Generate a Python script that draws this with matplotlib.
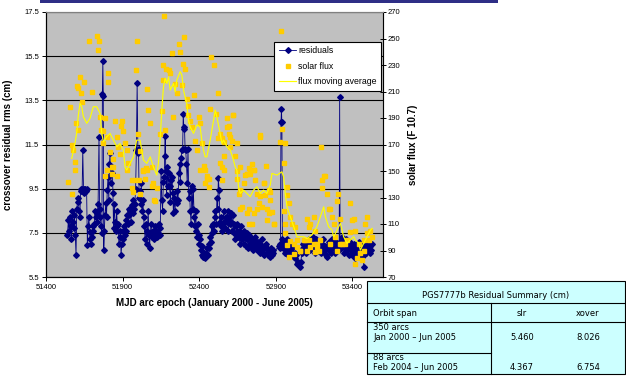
import matplotlib
matplotlib.use("Agg")
import matplotlib.pyplot as plt
from matplotlib.patches import Rectangle
from matplotlib.lines import Line2D

plt.rcParams['font.family'] = ['Liberation Sans', 'DejaVu Sans']

# crossover residual rms per arc (MJD, cm)
residuals = [
    (51540, 7.4), (51546, 8.1), (51551, 7.6), (51556, 8.2), (51561, 7.8), (51566, 7.2), (51571, 8.5),
    (51576, 8.0), (51581, 7.7), (51586, 8.3), (51591, 7.4), (51596, 6.5), (51601, 8.6), (51606, 8.9),
    (51611, 9.1), (51616, 8.5), (51621, 8.2), (51626, 9.5), (51631, 9.4), (51636, 9.5), (51640, 11.25),
    (51645, 9.5), (51650, 9.3), (51655, 9.5), (51660, 9.4), (51665, 9.5),
    (51670, 6.95), (51675, 7.8), (51680, 8.2), (51685, 7.55), (51690, 7.2), (51695, 7.0), (51700, 7.3),
    (51705, 7.8), (51710, 7.6), (51715, 7.9), (51720, 8.5), (51725, 8.2), (51730, 8.0), (51735, 8.4),
    (51740, 8.8), (51746, 11.85), (51750, 8.6), (51755, 8.2), (51760, 7.8), (51765, 7.5), (51768, 13.8),
    (51771, 15.28), (51774, 13.7), (51777, 6.7), (51781, 7.6),
    (51785, 8.3), (51790, 8.83), (51795, 8.2), (51800, 9.44), (51805, 10.04), (51810, 9.0), (51814, 10.6),
    (51818, 11.1), (51823, 9.74), (51828, 10.2), (51833, 10.5), (51837, 9.3), (51841, 7.7), (51846, 8.8),
    (51851, 8.0), (51856, 7.6), (51861, 8.5), (51866, 7.8), (51871, 7.9), (51876, 7.0), (51881, 7.3),
    (51886, 7.6), (51890, 6.5), (51895, 7.0), (51900, 7.2), (51905, 7.6), (51910, 7.8), (51915, 7.4),
    (51920, 8.1),
    (51925, 7.6), (51930, 8.3), (51935, 7.9), (51940, 8.3), (51945, 8.6), (51950, 8.5), (51955, 8.0),
    (51960, 8.76), (51965, 8.4), (51970, 9.0), (51975, 8.6), (51980, 8.8), (51985, 9.5), (51990, 11.25),
    (51995, 14.3), (52000, 11.1), (52004, 11.3), (52008, 9.1), (52012, 9.4), (52017, 8.8), (52022, 9.74),
    (52027, 8.5), (52032, 9.0), (52037, 8.2),
    (52042, 7.8), (52047, 7.2), (52052, 7.9), (52057, 7.0), (52062, 7.6), (52067, 8.5), (52072, 7.4),
    (52076, 6.8), (52081, 7.5), (52086, 7.9), (52091, 7.3), (52096, 7.6), (52101, 7.5), (52106, 7.2),
    (52111, 7.8), (52116, 7.4), (52121, 7.6), (52126, 7.3), (52131, 7.5), (52136, 7.9), (52141, 7.4),
    (52146, 7.7),
    (52151, 10.3), (52156, 9.0), (52161, 8.5), (52166, 9.8), (52171, 10.04), (52175, 11.0), (52178, 11.9),
    (52182, 10.3), (52187, 9.2), (52192, 10.5), (52197, 9.6), (52202, 10.2), (52207, 9.6), (52212, 8.9),
    (52217, 9.9), (52222, 10.04), (52227, 9.3), (52232, 8.38), (52237, 9.1), (52242, 8.5), (52247, 9.0),
    (52252, 8.83), (52257, 9.4), (52262, 9.0), (52267, 10.2), (52272, 10.6), (52277, 9.8), (52282, 10.9),
    (52287, 11.25), (52292, 11.3), (52296, 12.9), (52300, 12.2), (52304, 12.3), (52308, 11.3), (52312, 11.25),
    (52317, 10.6), (52322, 9.74), (52327, 11.3), (52332, 9.1), (52337, 9.4), (52342, 8.5), (52347, 7.9),
    (52352, 9.6), (52357, 8.6), (52362, 9.5), (52367, 8.2), (52372, 7.8), (52377, 8.5), (52382, 7.6),
    (52386, 7.3), (52391, 7.9), (52396, 7.4), (52401, 7.0), (52406, 7.2), (52411, 6.7), (52416, 6.9),
    (52421, 6.5), (52426, 6.4), (52431, 6.6), (52436, 6.35), (52441, 6.5), (52446, 6.6), (52451, 6.8),
    (52456, 6.5),
    (52461, 7.0), (52466, 6.8), (52471, 7.3), (52476, 7.1), (52481, 7.8), (52486, 7.5), (52491, 7.9),
    (52496, 7.6), (52501, 8.2), (52506, 8.5), (52511, 7.9), (52516, 9.1), (52521, 8.6), (52525, 10.0),
    (52530, 9.44), (52535, 8.0), (52540, 7.8), (52545, 8.2), (52550, 7.6), (52555, 7.8), (52560, 8.5),
    (52565, 8.0),
    (52570, 7.7), (52575, 8.2), (52580, 8.0), (52585, 8.5), (52590, 7.6), (52595, 8.2), (52600, 7.9),
    (52605, 8.4), (52610, 8.0), (52615, 7.6), (52620, 8.3), (52625, 7.5), (52630, 7.9), (52635, 7.2),
    (52640, 7.8), (52645, 7.4), (52650, 7.9), (52655, 7.3), (52660, 7.6), (52665, 7.0), (52670, 7.5),
    (52675, 7.8), (52680, 7.2), (52685, 7.4), (52690, 7.0), (52695, 7.6), (52700, 7.3), (52705, 6.9),
    (52710, 7.5), (52715, 7.2), (52720, 6.8), (52725, 7.4), (52730, 7.0), (52735, 7.3), (52740, 6.9),
    (52745, 7.1), (52750, 6.7), (52755, 7.2), (52760, 6.9), (52765, 7.3), (52770, 6.8), (52775, 7.0),
    (52780, 6.7), (52785, 7.1), (52790, 6.9), (52795, 6.6), (52800, 7.0), (52805, 6.8), (52810, 7.2),
    (52815, 6.6), (52820, 6.9), (52825, 6.5), (52830, 6.8), (52835, 7.0), (52840, 6.6), (52845, 6.8),
    (52850, 6.5), (52855, 6.7), (52860, 6.4), (52865, 6.6), (52870, 6.8), (52875, 6.5), (52880, 6.7),
    (52885, 6.6),
    (52920, 6.9), (52925, 7.0), (52930, 6.8), (52934, 12.5), (52937, 13.1), (52940, 12.5), (52943, 7.2),
    (52948, 6.8), (52953, 7.1), (52958, 6.6), (52963, 7.0), (52968, 6.7), (52973, 7.2), (52978, 6.8),
    (52983, 6.5), (52988, 7.0), (52993, 6.7), (52998, 6.9), (53003, 6.5), (53008, 6.8), (53013, 6.6),
    (53018, 6.4), (53023, 6.6), (53028, 6.34), (53033, 6.5), (53040, 6.1), (53048, 6.2), (53056, 5.96),
    (53064, 6.2), (53070, 6.6), (53075, 7.0), (53080, 6.8), (53085, 6.7), (53090, 7.1), (53095, 6.9),
    (53100, 6.6), (53105, 7.0), (53110, 6.8), (53115, 7.2), (53120, 6.9), (53125, 6.7), (53130, 7.1),
    (53135, 6.9), (53140, 7.3), (53145, 6.8), (53150, 7.0), (53155, 6.6), (53160, 6.9), (53165, 7.2),
    (53170, 6.8), (53175, 7.0), (53180, 6.7), (53185, 7.1), (53190, 6.9), (53195, 6.6), (53200, 7.0),
    (53205, 6.8), (53210, 7.2), (53215, 6.7), (53220, 6.9), (53225, 6.5), (53230, 6.8), (53235, 6.4),
    (53240, 6.9), (53245, 7.1), (53250, 6.7), (53255, 7.0), (53260, 6.6), (53265, 6.9), (53270, 7.2),
    (53275, 6.8), (53280, 7.0), (53285, 6.6), (53290, 6.9), (53295, 7.1), (53300, 6.8), (53305, 7.0),
    (53310, 6.7),
    (53314, 7.0), (53317, 13.65), (53320, 7.1), (53325, 6.8), (53330, 7.3), (53335, 6.9), (53340, 7.1),
    (53345, 6.6), (53350, 7.0), (53355, 6.8), (53360, 7.2), (53365, 6.7), (53370, 7.0), (53375, 6.5),
    (53380, 6.9), (53385, 7.1), (53390, 6.7), (53395, 6.9), (53400, 6.5), (53405, 6.8), (53410, 7.0),
    (53415, 6.6), (53420, 6.34), (53425, 6.8), (53430, 7.0), (53435, 6.6), (53440, 6.9), (53445, 7.1),
    (53450, 6.7), (53455, 6.5), (53460, 6.9), (53465, 6.6), (53470, 6.8), (53474, 5.96), (53478, 6.5),
    (53483, 6.9), (53488, 6.6), (53493, 7.0), (53498, 6.7), (53503, 6.9), (53508, 7.1), (53513, 6.6),
    (53518, 6.9), (53523, 6.7), (53528, 7.0),
]

# daily solar flux samples (MJD, F10.7)
solar_flux = [
    (51546, 142), (51568, 170), (51568, 133), (51557, 198), (51578, 166), (51589, 157), (51589, 151),
    (51596, 186), (51604, 214), (51611, 213), (51622, 221), (51626, 209), (51633, 202), (51611, 181),
    (51650, 217), (51679, 248), (51698, 210), (51735, 252), (51737, 241), (51748, 248), (51753, 191),
    (51757, 181), (51775, 180), (51775, 171), (51785, 190), (51796, 176), (51807, 224), (51807, 217),
    (51818, 164), (51829, 153), (51829, 148), (51840, 159), (51851, 188), (51862, 176), (51873, 168),
    (51883, 163), (51888, 184), (51894, 188), (51905, 180), (51916, 171), (51927, 166), (51938, 156),
    (51960, 143), (51982, 143), (51988, 226), (51997, 248), (52003, 178), (52014, 165), (52036, 151),
    (52054, 152), (52058, 212), (52069, 196), (52080, 186), (52091, 153), (52101, 141), (52123, 137),
    (52145, 178), (52156, 195), (52162, 219), (52167, 230), (52171, 267), (52178, 181), (52184, 227),
    (52200, 226), (52211, 224), (52221, 239), (52232, 191), (52243, 216), (52254, 209), (52269, 246),
    (52276, 240), (52287, 215), (52293, 231), (52302, 251), (52308, 227), (52319, 204), (52324, 199),
    (52330, 192), (52341, 188), (52352, 183), (52363, 207), (52374, 173), (52385, 166), (52396, 191),
    (52406, 186), (52417, 171), (52433, 154), (52439, 151), (52450, 144), (52461, 144), (52472, 197),
    (52476, 236), (52494, 230), (52511, 193), (52526, 209), (52537, 178), (52548, 175), (52559, 172),
    (52581, 183), (52592, 178), (52603, 168), (52624, 192), (52646, 171), (52664, 153), (52690, 141),
    (52712, 148), (52723, 152), (52733, 148), (52755, 151), (52777, 133), (52794, 176), (52799, 131),
    (52820, 141), (52838, 154), (52853, 136), (52864, 134), (52929, 172), (52936, 256), (52940, 182),
    (52951, 156), (52962, 171), (52973, 132),
    (51797, 151), (51786, 146), (51840, 153), (51862, 146), (51960, 137), (51971, 134), (52014, 133),
    (52004, 143), (51927, 151),
    (52036, 150), (52047, 144), (52058, 151), (52091, 139), (52102, 128), (52112, 127), (52439, 141),
    (52450, 146), (52461, 138), (52537, 156), (52548, 143), (52520, 175), (52407, 151),
    (52581, 190), (52592, 184), (52603, 176), (52614, 173), (52624, 192), (52559, 161), (52548, 153),
    (52559, 151), (52635, 161), (52646, 150), (52646, 144), (52657, 133), (52668, 136), (52679, 123),
    (52701, 147), (52712, 148), (52723, 121), (52733, 151), (52744, 155), (52755, 151), (52766, 143),
    (52777, 121), (52788, 126), (52799, 177), (52810, 123), (52821, 141), (52832, 132), (52842, 121),
    (52853, 118), (52875, 119), (52886, 110), (52973, 138), (52984, 126), (52995, 115), (53006, 110),
    (53028, 108), (53039, 98), (53060, 90), (52984, 85), (53017, 95), (52951, 120), (52962, 110),
    (53082, 98),
    (53104, 114), (53115, 108), (53126, 110), (53147, 115), (53158, 105), (53169, 95), (53180, 90),
    (53191, 98), (53197, 168), (53202, 143), (53213, 146), (53224, 146), (53202, 137), (53234, 133),
    (53245, 121), (53256, 121), (53267, 115), (53278, 110), (53289, 100), (53300, 127), (53304, 133),
    (53317, 114), (53322, 95), (53333, 95), (53354, 95), (53365, 98), (53383, 126), (53387, 104),
    (53398, 113), (53409, 114), (53420, 105), (53431, 84), (53442, 95), (53452, 88), (53463, 83),
    (53474, 90), (53485, 110), (53496, 115), (53496, 103), (53507, 98), (53518, 105), (53529, 100),
    (53420, 80), (53474, 98), (53256, 95), (53147, 95), (53115, 98), (53093, 98), (53300, 90),
    (52668, 121), (52712, 118), (52723, 110), (52744, 110), (52755, 118), (52842, 113), (52864, 128),
    (52886, 110), (52962, 103), (52973, 94), (52995, 97), (53017, 87), (53039, 93), (53060, 90),
    (53104, 90), (53126, 93), (53169, 93), (53158, 89),
]

# moving average of the flux (MJD, F10.7)
flux_avg = [
    (51568, 159.5), (51589, 170.8), (51600, 178.4), (51611, 192), (51622, 201), (51633, 198.5),
    (51644, 191), (51666, 186), (51687, 189.7), (51709, 198.5), (51731, 198.5), (51753, 193.5),
    (51764, 178.4), (51775, 172), (51796, 175.8), (51818, 178.4), (51840, 173.3), (51862, 168.3),
    (51883, 170.8), (51905, 165.8), (51916, 153), (51927, 150.7), (51949, 155.7), (51971, 160.7),
    (51992, 173.3), (52014, 173.3), (52036, 158.2), (52058, 155.7), (52080, 160.7), (52101, 153.2),
    (52123, 146.9), (52134, 155.7), (52145, 173.3), (52156, 196), (52167, 213.6), (52178, 219.9),
    (52189, 216), (52200, 221), (52211, 211), (52221, 213.6), (52232, 216), (52243, 209.8),
    (52254, 218.6), (52276, 225), (52287, 222.4), (52298, 211), (52308, 206), (52319, 201),
    (52330, 188.4), (52341, 183.4), (52363, 178.4), (52385, 184.7), (52406, 183.4), (52417, 173.3),
    (52428, 165.8), (52439, 160.7), (52450, 160.7), (52472, 173.3), (52494, 188.4), (52505, 196),
    (52515, 191), (52537, 178.4), (52548, 170.8), (52559, 173.3), (52581, 168.3), (52603, 165.8),
    (52624, 158.2), (52635, 153.2), (52646, 150.7), (52657, 138.1), (52668, 133.1), (52690, 135.6),
    (52712, 133.1), (52733, 130.6), (52755, 135.6), (52777, 138.1), (52799, 133.1), (52820, 135.6),
    (52842, 133.1), (52864, 139.4), (52875, 148.2), (52908, 146.9), (52940, 149.4), (52951, 145.7),
    (52962, 133.1), (52973, 123.1), (52995, 115.5), (53017, 108), (53039, 100.4), (53060, 100.4),
    (53082, 100.4), (53104, 99), (53136, 101.7), (53169, 108), (53213, 123), (53224, 115.5),
    (53245, 108), (53267, 105.4), (53278, 100.4), (53300, 105.4), (53322, 110.5), (53343, 100.4),
    (53365, 95.4), (53387, 97.9), (53409, 100.4), (53420, 97.9), (53442, 95.4), (53452, 90.3),
    (53474, 95.4), (53496, 100.4), (53518, 105.4), (53529, 106.7),
]

x_ticks = [51400, 51900, 52400, 52900, 53400]
left_ticks = [5.5, 7.5, 9.5, 11.5, 13.5, 15.5, 17.5]
right_ticks = [70, 90, 110, 130, 150, 170, 190, 210, 230, 250, 270]

table_title = "PGS7777b Residual Summary (cm)"
table_header = ["Orbit span", "slr", "xover"]
table_rows = [
    ["350 arcs\nJan 2000 \u2013 Jun 2005", "5.460", "8.026"],
    ["88 arcs\nFeb 2004 \u2013 Jun 2005", "4.367", "6.754"],
]

W, H = 626, 385
fig = plt.figure(figsize=(W / 100, H / 100), dpi=100)


def fx(x):
    return x / W


def fy(y):
    return 1 - y / H


ax = fig.add_axes([fx(46), fy(277), fx(383) - fx(46), fy(12) - fy(277)])
ax.set_facecolor('#C0C0C0')
ax2 = ax.twinx()

rx, ry = zip(*residuals)
fxs, fys = zip(*solar_flux)
ax_, ay_ = zip(*flux_avg)

ax.plot(rx, ry, color='#000080', lw=0.6, marker='D', ms=2.9, mec='#000080', mfc='#000080',
        label='residuals')
ax2.plot(fxs, fys, ls='none', marker='s', ms=2.2, color='#FFCC00', mec='#FFCC00', label='solar flux')
ax2.plot(ax_, ay_, color='#FFFF00', lw=0.85, label='flux moving average')

ax.set_xlim(51400, 53600)
ax.set_ylim(5.5, 17.5)
ax2.set_ylim(70, 270)
ax.set_xticks(x_ticks)
ax.set_yticks(left_ticks)
ax2.set_yticks(right_ticks)
ax.set_xticklabels([str(t) for t in x_ticks])
ax.set_yticklabels([f"{t:.1f}" for t in left_ticks])

ax.grid(axis='y', color='black', lw=0.8)
ax.set_axisbelow(True)
for a in (ax, ax2):
    a.spines['top'].set_color('#808080')
    for s in ('top', 'left', 'right', 'bottom'):
        a.spines[s].set_linewidth(0.8)
ax.spines['right'].set_color('#808080')

ax.tick_params(axis='both', labelsize=5.5, length=3, width=0.7, pad=2, direction='out')
ax2.tick_params(axis='y', labelsize=5.5, length=4, width=0.7, pad=1.5, direction='inout')

ax.set_xlabel('MJD arc epoch (January 2000 - June 2005)', fontsize=7, fontweight='bold')
ax.set_ylabel('crossover residual rms (cm)', fontsize=7, fontweight='bold')
ax2.set_ylabel('solar flux (F 10.7)', fontsize=7, fontweight='bold')
ax.xaxis.set_label_coords(0.5, -0.079)
ax.yaxis.set_label_coords(-0.098, 0.5)
ax2.yaxis.set_label_coords(1.074, 0.5)

handles = ax.get_lines()[:1] + ax2.get_lines()
leg = ax2.legend(handles, [h.get_label() for h in handles], loc='upper right',
                 bbox_to_anchor=(0.994, 0.887), fontsize=6.3, frameon=True, fancybox=False,
                 framealpha=1, edgecolor='black', handlelength=2.0, handletextpad=0.2,
                 borderpad=0.5, labelspacing=0.75, borderaxespad=0, numpoints=1)
leg.get_frame().set_linewidth(0.8)

# slide rule along the top
fig.add_artist(Rectangle((fx(40), fy(2.5)), fx(498) - fx(40), fy(0) - fy(2.5),
                         transform=fig.transFigure, color='#2E2E86', lw=0))

# summary table
tl, tm, tr = 367, 491, 625
tt, t1, t2, t3, tb = 281, 303, 322, 353, 374
fig.add_artist(Rectangle((fx(tl), fy(tb)), fx(tr) - fx(tl), fy(tt) - fy(tb),
                         transform=fig.transFigure, facecolor='#CCFFFF', edgecolor='black', lw=0.8))
for (x0, x1, y0, y1) in [(tl, tr, t1, t1), (tl, tr, t2, t2), (tl, tm, t3, t3), (tm, tm, t1, tb)]:
    fig.add_artist(Line2D([fx(x0), fx(x1)], [fy(y0), fy(y1)], transform=fig.transFigure,
                          color='black', lw=0.8))

tkw = dict(fontsize=6.0, family='DejaVu Sans', color='black', transform=fig.transFigure, va='center')
col_slr, col_xover = 522, 588
fig.text(fx((tl + tr) / 2), fy(295), table_title, ha='center', **tkw)
fig.text(fx(373), fy(313), table_header[0], ha='left', **tkw)
fig.text(fx(col_slr), fy(313), table_header[1], ha='center', **tkw)
fig.text(fx(col_xover), fy(313), table_header[2], ha='center', **tkw)
row_y = [(327, 337), (358, 367)]
for (y_a, y_b), row in zip(row_y, table_rows):
    first, second = row[0].split('\n')
    fig.text(fx(373), fy(y_a), first, ha='left', **tkw)
    fig.text(fx(373), fy(y_b), second, ha='left', **tkw)
    fig.text(fx(col_slr), fy(y_b), row[1], ha='center', **tkw)
    fig.text(fx(col_xover), fy(y_b), row[2], ha='center', **tkw)

fig.savefig('out.png', dpi=100)
